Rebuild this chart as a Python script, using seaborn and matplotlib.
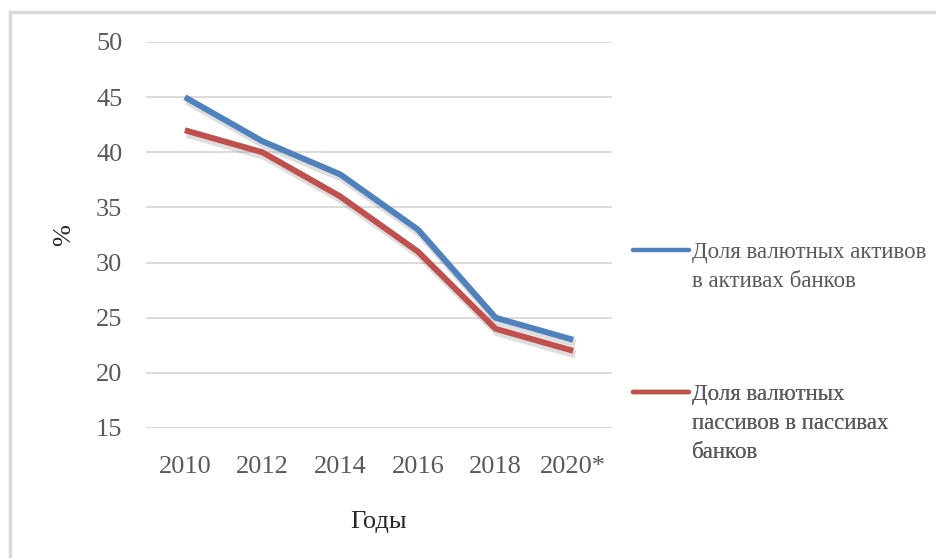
import matplotlib
matplotlib.use("Agg")
import matplotlib.pyplot as plt
import matplotlib.patheffects as pe
from matplotlib.patches import Rectangle
from matplotlib.lines import Line2D
import seaborn as sns
import pandas as pd

years = ["2010", "2012", "2014", "2016", "2018", "2020*"]
assets_share = [45, 41, 38, 33, 25, 23]
liabilities_share = [42, 40, 36, 31, 24, 22]
series_names = ["Доля валютных активов\nв активах банков",
                "Доля валютных\nпассивов в пассивах\nбанков"]
y_ticks = [15, 20, 25, 30, 35, 40, 45, 50]

sns.set_theme(style="white")
plt.rcParams["font.family"] = ["Liberation Serif", "DejaVu Serif"]

blue = "#4F81BD"
red = "#C0504D"
tick_color = "#595959"

df = pd.DataFrame({
    "year": years * 2,
    "value": assets_share + liabilities_share,
    "series": [series_names[0]] * len(years) + [series_names[1]] * len(years),
})

W, H = 936, 558
fig = plt.figure(figsize=(W / 100, H / 100), dpi=100)
ax = fig.add_axes([146 / W, 1 - 428 / H, (612 - 146) / W, (428 - 42) / H])

# outer chart frame
fig.patches.append(Rectangle((10 / W, -0.1), 1.2, 1 - 12 / H + 0.1,
                             transform=fig.transFigure, fill=False,
                             edgecolor="#D9D9D9", linewidth=2.5, zorder=0))

shadow = [pe.SimpleLineShadow(offset=(1.5, -2.5), shadow_color="#7f7f7f", alpha=0.25, linewidth=6),
          pe.Normal()]

sns.lineplot(data=df, x="year", y="value", hue="series", sort=False,
             palette=[blue, red], linewidth=4.3, ax=ax, legend=False)
for ln in ax.get_lines():
    ln.set_path_effects(shadow)
    ln.set_solid_capstyle("butt")

ax.set_ylim(15, 50)
ax.set_yticks(y_ticks)
ax.set_xlim(-0.5, len(years) - 0.5)
ax.yaxis.grid(True, color="#D9D9D9", linewidth=1.3)
ax.xaxis.grid(False)
ax.set_axisbelow(True)
for s in ax.spines.values():
    s.set_visible(False)
ax.tick_params(axis="both", length=0, labelsize=19, colors=tick_color)
ax.tick_params(axis="y", pad=17)
ax.tick_params(axis="x", pad=20)
ax.set_xlabel("Годы", fontsize=19, color="#262626", labelpad=24)
ax.set_ylabel("%", fontsize=19, color="#262626", labelpad=15)

# one legend box per series, each key level with the first text line
handles = [Line2D([], [], color=blue, linewidth=3.2),
           Line2D([], [], color=red, linewidth=3.2)]
tops = [242, 384]
for h, name, top in zip(handles, series_names, tops):
    leg = ax.legend([h], [name], loc="upper left",
                    bbox_to_anchor=(633 / W, 1 - top / H), bbox_transform=fig.transFigure,
                    frameon=False, fontsize=16.5, labelcolor=tick_color,
                    handlelength=2.45, handletextpad=0.12,
                    borderaxespad=0, borderpad=0)
    for col in leg._legend_handle_box.get_children():
        col.align = "left"
        for item in col.get_children():
            item.align = "top"
    for t in leg.get_texts():
        t.set_linespacing(1.5)
    ax.add_artist(leg)

fig.savefig("out.png", dpi=100)
